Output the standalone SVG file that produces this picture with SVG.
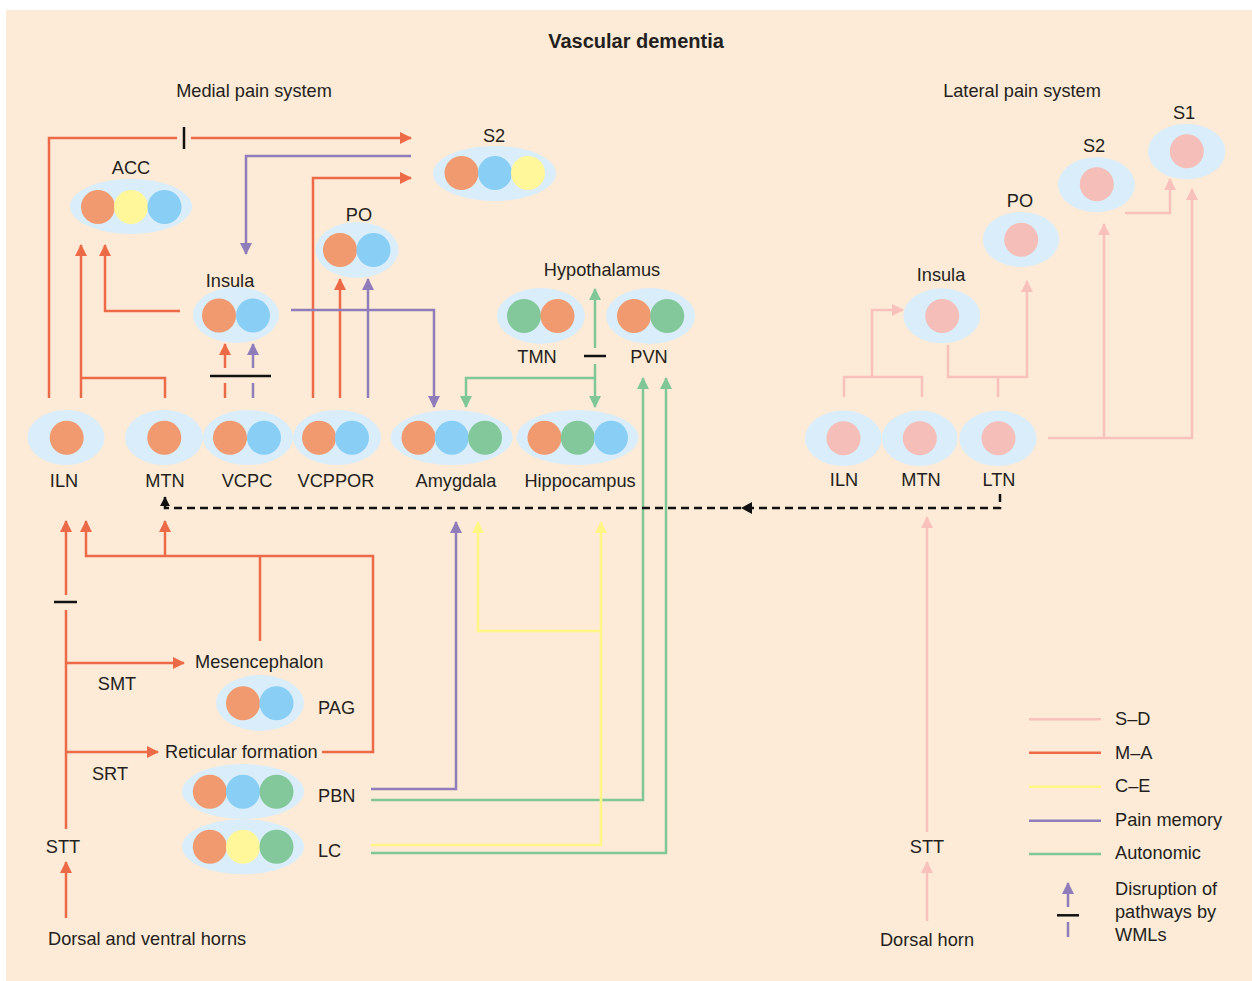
<svg xmlns="http://www.w3.org/2000/svg" width="1252" height="981" viewBox="0 0 1252 981">
<style>
text{font-family:"Liberation Sans",Arial,sans-serif;font-size:18.2px;fill:#231F20}
.t{font-weight:bold;font-size:20px}
.m{text-anchor:middle}
.e{fill:#D9EDFA}
.co{fill:#F19A70}.cb{fill:#89CEF5}.cy{fill:#FFF799}.cg{fill:#83C89A}.cp{fill:#F5BEB8}
.l{fill:none;stroke-width:2.5}
.lo{stroke:#EC6A47}.lp{stroke:#8E7CBB}.lg{stroke:#80C797}.ly{stroke:#FFF685}.lk{stroke:#F8C1BC}
.bar{stroke:#111;stroke-width:2.5}
.d{fill:none;stroke:#111;stroke-width:2.5;stroke-dasharray:8 5}
</style>
<defs>
<marker id="aO" viewBox="0 0 12 12" refX="11" refY="6" markerWidth="12" markerHeight="12" markerUnits="userSpaceOnUse" orient="auto"><path d="M0,0L12,6L0,12z" fill="#EC6A47"/></marker>
<marker id="aP" viewBox="0 0 12 12" refX="11" refY="6" markerWidth="12" markerHeight="12" markerUnits="userSpaceOnUse" orient="auto"><path d="M0,0L12,6L0,12z" fill="#8E7CBB"/></marker>
<marker id="aG" viewBox="0 0 12 12" refX="11" refY="6" markerWidth="12" markerHeight="12" markerUnits="userSpaceOnUse" orient="auto"><path d="M0,0L12,6L0,12z" fill="#80C797"/></marker>
<marker id="aY" viewBox="0 0 12 12" refX="11" refY="6" markerWidth="12" markerHeight="12" markerUnits="userSpaceOnUse" orient="auto"><path d="M0,0L12,6L0,12z" fill="#FFF685"/></marker>
<marker id="aK" viewBox="0 0 12 12" refX="11" refY="6" markerWidth="12" markerHeight="12" markerUnits="userSpaceOnUse" orient="auto"><path d="M0,0L12,6L0,12z" fill="#F8C1BC"/></marker>
<marker id="aB" viewBox="0 0 12 12" refX="11" refY="6" markerWidth="10" markerHeight="10" markerUnits="userSpaceOnUse" orient="auto"><path d="M0,0L12,6L0,12z" fill="#111"/></marker>
</defs>
<rect x="6" y="10" width="1246" height="971" fill="#FDEBD7"/>
<text class="t m" x="636" y="48">Vascular dementia</text>
<text class="m" x="254" y="97">Medial pain system</text>
<text class="m" x="1022" y="97">Lateral pain system</text>

<g id="connectors">
<path class="l lo" d="M49,398V138H177" />
<path class="l lo" d="M191,138H411" marker-end="url(#aO)"/>
<line class="bar" x1="184" y1="127" x2="184" y2="149"/>
<path class="l lp" d="M411,156H246V254" marker-end="url(#aP)"/>
<path class="l lo" d="M313,398V178H411" marker-end="url(#aO)"/>
<path class="l lo" d="M81,398V245" marker-end="url(#aO)"/>
<path class="l lo" d="M165,398V378H81"/>
<path class="l lo" d="M180,311H105V245" marker-end="url(#aO)"/>
<path class="l lo" d="M225,398V383"/>
<path class="l lo" d="M225,368V344" marker-end="url(#aO)"/>
<path class="l lp" d="M253,398V383"/>
<path class="l lp" d="M253,368V344" marker-end="url(#aP)"/>
<line class="bar" x1="210" y1="376" x2="271" y2="376"/>
<path class="l lo" d="M340,398V279" marker-end="url(#aO)"/>
<path class="l lp" d="M368,398V279" marker-end="url(#aP)"/>
<path class="l lp" d="M291,310H434V407" marker-end="url(#aP)"/>
<path class="l lg" d="M595,348V289" marker-end="url(#aG)"/>
<line class="bar" x1="584" y1="356" x2="606" y2="356"/>
<path class="l lg" d="M595,364V407" marker-end="url(#aG)"/>
<path class="l lg" d="M595,378H466V407" marker-end="url(#aG)"/>
<path class="l lg" d="M371,800H643V378" marker-end="url(#aG)"/>
<path class="l lg" d="M371,853H666V378" marker-end="url(#aG)"/>
<path class="l lp" d="M371,789H456V522" marker-end="url(#aP)"/>
<path class="l ly" d="M371,845H601V522" marker-end="url(#aY)"/>
<path class="l ly" d="M601,631H478V522" marker-end="url(#aY)"/>
<path class="d" d="M1000,494V508H165V497" marker-end="url(#aB)"/>
<path d="M741,508L752,502V514z" fill="#111"/>
<path class="l lo" d="M66,829V610"/>
<line class="bar" x1="54" y1="602" x2="77" y2="602"/>
<path class="l lo" d="M66,595V521" marker-end="url(#aO)"/>
<path class="l lo" d="M66,663H184" marker-end="url(#aO)"/>
<path class="l lo" d="M66,752H158" marker-end="url(#aO)"/>
<path class="l lo" d="M66,918V862" marker-end="url(#aO)"/>
<path class="l lo" d="M322,752H373V556H86V521" marker-end="url(#aO)"/>
<path class="l lo" d="M165,556V521" marker-end="url(#aO)"/>
<path class="l lo" d="M260,641V556"/>
<path class="l lk" d="M844,397V377H922V397"/>
<path class="l lk" d="M872,377V310H903" marker-end="url(#aK)"/>
<path class="l lk" d="M998,397V377"/>
<path class="l lk" d="M948,345V377H1027V281" marker-end="url(#aK)"/>
<path class="l lk" d="M1048,438H1192V189" marker-end="url(#aK)"/>
<path class="l lk" d="M1104,438V224" marker-end="url(#aK)"/>
<path class="l lk" d="M1125,213H1170V179" marker-end="url(#aK)"/>
<path class="l lk" d="M927,832V517" marker-end="url(#aK)"/>
<path class="l lk" d="M927,921V862" marker-end="url(#aK)"/>
</g>

<g id="acc"><ellipse class="e" cx="131" cy="206.5" rx="61" ry="27.5"/><circle class="co" cx="98" cy="207" r="17"/><circle class="cy" cx="131" cy="207" r="17"/><circle class="cb" cx="164.5" cy="207" r="17"/><text class="m" x="131" y="174">ACC</text></g>
<g id="s2m"><ellipse class="e" cx="494.5" cy="173.5" rx="61.5" ry="27.5"/><circle class="co" cx="461.5" cy="173" r="17"/><circle class="cb" cx="495" cy="173" r="17"/><circle class="cy" cx="528" cy="173" r="17"/><text class="m" x="494" y="142">S2</text></g>
<g id="pom"><ellipse class="e" cx="357" cy="250" rx="41.5" ry="28"/><circle class="co" cx="340" cy="250" r="17"/><circle class="cb" cx="373.5" cy="250" r="17"/><text class="m" x="359" y="221">PO</text></g>
<g id="insm"><ellipse class="e" cx="236" cy="315" rx="43" ry="28"/><circle class="co" cx="219" cy="315.5" r="17"/><circle class="cb" cx="253" cy="315.5" r="17"/><text class="m" x="230" y="287">Insula</text></g>
<text class="m" x="602" y="276">Hypothalamus</text>
<g id="tmn"><ellipse class="e" cx="541" cy="316" rx="44" ry="28"/><circle class="cg" cx="524" cy="316" r="17"/><circle class="co" cx="557.5" cy="316" r="17"/><text class="m" x="537" y="363">TMN</text></g>
<g id="pvn"><ellipse class="e" cx="650.5" cy="316" rx="44.5" ry="28"/><circle class="co" cx="634" cy="316" r="17"/><circle class="cg" cx="667.2" cy="316" r="17"/><text class="m" x="649" y="363">PVN</text></g>

<g id="ilnm"><ellipse class="e" cx="66" cy="437.5" rx="38.5" ry="27.5"/><circle class="co" cx="66.7" cy="437.7" r="17"/><text class="m" x="64" y="487">ILN</text></g>
<g id="mtnm"><ellipse class="e" cx="164" cy="437.5" rx="39" ry="27.5"/><circle class="co" cx="164.3" cy="437.7" r="17"/><text class="m" x="165" y="487">MTN</text></g>
<g id="vcpc"><ellipse class="e" cx="248" cy="437.5" rx="45" ry="27.5"/><circle class="co" cx="230" cy="437.7" r="17"/><circle class="cb" cx="264" cy="437.7" r="17"/><text class="m" x="247" y="487">VCPC</text></g>
<g id="vcppor"><ellipse class="e" cx="337" cy="437.5" rx="44" ry="27.5"/><circle class="co" cx="319" cy="437.7" r="17"/><circle class="cb" cx="352" cy="437.7" r="17"/><text class="m" x="336" y="487">VCPPOR</text></g>
<g id="amyg"><ellipse class="e" cx="451.7" cy="437.5" rx="61" ry="27.5"/><circle class="co" cx="418.5" cy="437.7" r="17"/><circle class="cb" cx="451.8" cy="437.7" r="17"/><circle class="cg" cx="485" cy="437.7" r="17"/><text class="m" x="456" y="487">Amygdala</text></g>
<g id="hippo"><ellipse class="e" cx="577.5" cy="437.5" rx="61" ry="27.5"/><circle class="co" cx="544.5" cy="437.7" r="17"/><circle class="cg" cx="577.7" cy="437.7" r="17"/><circle class="cb" cx="611" cy="437.7" r="17"/><text class="m" x="580" y="487">Hippocampus</text></g>

<g id="ilnl"><ellipse class="e" cx="843.3" cy="438.3" rx="38.3" ry="27.7"/><circle class="cp" cx="843.5" cy="438.3" r="17"/><text class="m" x="844" y="486">ILN</text></g>
<g id="mtnl"><ellipse class="e" cx="919.7" cy="438.3" rx="38" ry="27.7"/><circle class="cp" cx="919.8" cy="438.3" r="17"/><text class="m" x="921" y="486">MTN</text></g>
<g id="ltn"><ellipse class="e" cx="998" cy="438.3" rx="38.7" ry="27.7"/><circle class="cp" cx="998.5" cy="438.3" r="17"/><text class="m" x="999" y="486">LTN</text></g>
<g id="insl"><ellipse class="e" cx="941.8" cy="315.8" rx="38.5" ry="27.5"/><circle class="cp" cx="942.2" cy="316" r="17"/><text class="m" x="941" y="281">Insula</text></g>
<g id="pol"><ellipse class="e" cx="1021" cy="239.5" rx="38.2" ry="27.5"/><circle class="cp" cx="1021.2" cy="239.7" r="17"/><text class="m" x="1020" y="207">PO</text></g>
<g id="s2l"><ellipse class="e" cx="1096.5" cy="184.7" rx="38.5" ry="27.5"/><circle class="cp" cx="1096.8" cy="184.3" r="17"/><text class="m" x="1094" y="152">S2</text></g>
<g id="s1"><ellipse class="e" cx="1186.7" cy="151.5" rx="38.7" ry="27.8"/><circle class="cp" cx="1186.8" cy="151.3" r="17"/><text class="m" x="1184" y="119">S1</text></g>

<g id="mesen"><text x="195" y="668">Mesencephalon</text></g>
<g id="pag"><ellipse class="e" cx="260" cy="703" rx="44" ry="28"/><circle class="co" cx="243" cy="703.3" r="17"/><circle class="cb" cx="276.5" cy="703.3" r="17"/><text x="318" y="714">PAG</text></g>
<g id="retic"><text x="165" y="758">Reticular formation</text></g>
<g id="pbn"><ellipse class="e" cx="243" cy="791.5" rx="61" ry="27.5"/><circle class="co" cx="209.8" cy="791.7" r="17"/><circle class="cb" cx="243" cy="791.7" r="17"/><circle class="cg" cx="276.5" cy="791.7" r="17"/><text x="318" y="802">PBN</text></g>
<g id="lc"><ellipse class="e" cx="243" cy="846.8" rx="61" ry="27.5"/><circle class="co" cx="209.8" cy="846.7" r="17"/><circle class="cy" cx="243" cy="846.7" r="17"/><circle class="cg" cx="276.5" cy="846.7" r="17"/><text x="318" y="857">LC</text></g>
<text class="m" x="117" y="690">SMT</text>
<text class="m" x="110" y="780">SRT</text>
<g id="sttm"><text class="m" x="63" y="853">STT</text></g>
<g id="dvh"><text x="48" y="945">Dorsal and ventral horns</text></g>
<g id="sttl"><text class="m" x="927" y="853">STT</text></g>
<g id="dh"><text class="m" x="927" y="946">Dorsal horn</text></g>

<g id="legend">
<line class="l lk" x1="1029" y1="719.3" x2="1101" y2="719.3"/><text x="1115" y="725">S–D</text>
<line class="l lo" x1="1029" y1="752.7" x2="1101" y2="752.7"/><text x="1115" y="759">M–A</text>
<line class="l ly" x1="1029" y1="786.7" x2="1101" y2="786.7"/><text x="1115" y="792">C–E</text>
<line class="l lp" x1="1029" y1="820.7" x2="1101" y2="820.7"/><text x="1115" y="826">Pain memory</text>
<line class="l lg" x1="1029" y1="854" x2="1101" y2="854"/><text x="1115" y="859">Autonomic</text>
<path class="l lp" d="M1068,907V883" marker-end="url(#aP)"/>
<line class="bar" x1="1057" y1="915.3" x2="1079" y2="915.3"/>
<line class="l lp" x1="1068" y1="922" x2="1068" y2="937"/>
<text x="1115" y="895">Disruption of</text>
<text x="1115" y="918">pathways by</text>
<text x="1115" y="941">WMLs</text>
</g>
</svg>
